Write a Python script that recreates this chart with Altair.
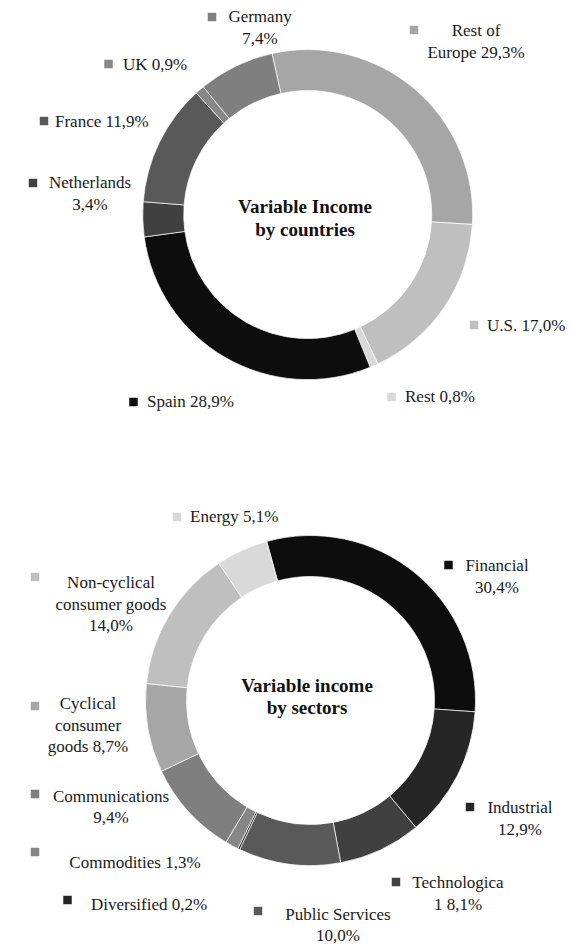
import math
import altair as alt
import pandas as pd

FONT = "Liberation Serif"

# ---------------- data ----------------
country_names = ["Rest of Europe", "U.S.", "Rest", "Spain", "Netherlands", "France", "UK", "Germany"]
country_values = [29.3, 17.0, 0.8, 28.9, 3.4, 11.9, 0.9, 7.4]
country_colors = ["#a6a6a6", "#bfbfbf", "#d9d9d9", "#0d0d0d", "#404040", "#595959", "#878787", "#7f7f7f"]
country_labels = [["Rest of", "Europe 29,3%"], ["U.S. 17,0%"], ["Rest 0,8%"], ["Spain 28,9%"],
                  ["Netherlands", "3,4%"], ["France 11,9%"], ["UK 0,9%"], ["Germany", "7,4%"]]

sector_names = ["Financial", "Industrial", "Technologica", "Public Services", "Diversified",
                "Commodities", "Communications", "Cyclical consumer goods",
                "Non-cyclical consumer goods", "Energy"]
sector_values = [30.4, 12.9, 8.1, 10.0, 0.2, 1.3, 9.4, 8.7, 14.0, 5.1]
sector_colors = ["#0d0d0d", "#262626", "#404040", "#595959", "#262626",
                 "#878787", "#7f7f7f", "#a6a6a6", "#bfbfbf", "#d9d9d9"]
sector_labels = [["Financial", "30,4%"], ["Industrial", "12,9%"], ["Technologica", "1 8,1%"],
                 ["Public Services", "10,0%"], ["Diversified 0,2%"], ["Commodities 1,3%"],
                 ["Communications", "9,4%"], ["Cyclical", "consumer", "goods 8,7%"],
                 ["Non-cyclical", "consumer goods", "14,0%"], ["Energy 5,1%"]]

titles = [["Variable Income", "by countries"], ["Variable income", "by sectors"]]

# ---------------- layout (page pixels, minus 8px margin below) ----------------
M = 8
donut_centers = [(307.7, 214.6), (310.5, 700.5)]
outer_r, inner_r = 165, 124
start_deg = [-12.5, -15.4]
title_x = [305, 307]
title_y = [[207, 230], [686, 708]]

# per label: square centre, text anchor x, alignment, first-line y, line step
country_layout = [
    ((414, 30), 476, "center", 31, 22),
    ((474, 325), 487, "left", 326, 22),
    ((391.5, 397), 405, "left", 397, 22),
    ((133.5, 402), 147, "left", 402, 22),
    ((33, 183), 90, "center", 183, 22),
    ((44, 121), 55, "left", 122, 22),
    ((108.5, 64), 123, "left", 65, 22),
    ((212, 17), 260, "center", 17, 22),
]
sector_layout = [
    ((448.5, 565), 497, "center", 566, 22),
    ((470, 807), 520, "center", 808, 22),
    ((396, 882), 458, "center", 883, 22),
    ((258, 911), 338, "center", 915, 21),
    ((67.5, 900), 91, "left", 905, 22),
    ((35, 852), 135, "center", 863, 22),
    ((35, 794), 111, "center", 797, 21),
    ((35, 706), 88, "center", 704, 21.5),
    ((35, 577), 111, "center", 583, 21.5),
    ((177, 517), 190, "left", 517, 22),
]

arc_frames, sq_rows, txt_rows = [], [], []
for k, (names, vals, cols, labels, layout) in enumerate([
        (country_names, country_values, country_colors, country_labels, country_layout),
        (sector_names, sector_values, sector_colors, sector_labels, sector_layout)]):
    arc_frames.append(pd.DataFrame({"name": names, "value": vals, "color": cols,
                                    "idx": list(range(len(names)))}))
    for name, col, lines, (sq, tx, al, y0, step) in zip(names, cols, labels, layout):
        sq_rows.append({"x": sq[0] - M, "y": sq[1] - M, "color": col})
        for j, line in enumerate(lines):
            txt_rows.append({"x": tx - M, "y": y0 + j * step - M, "text": line, "align": al})

sq_df = pd.DataFrame(sq_rows)
txt_df = pd.DataFrame(txt_rows)
title_df = pd.DataFrame([{"x": title_x[k] - M, "y": title_y[k][j] - M, "text": t}
                         for k in range(2) for j, t in enumerate(titles[k])])

layers = []
for k, df in enumerate(arc_frames):
    a0 = math.radians(start_deg[k])
    cx, cy = donut_centers[k]
    layers.append(
        alt.Chart(df).mark_arc(innerRadius=inner_r, outerRadius=outer_r,
                               stroke="white", strokeWidth=0.7).encode(
            theta=alt.Theta("value:Q", stack=True,
                            scale=alt.Scale(range=[a0, a0 + 2 * math.pi])),
            color=alt.Color("color:N", scale=None),
            order=alt.Order("idx:Q", sort="ascending"),
            x=alt.value(cx - M),
            y=alt.value(cy - M),
        )
    )

xs = alt.X("x:Q", scale=None, axis=None)
ys = alt.Y("y:Q", scale=None, axis=None)

squares = alt.Chart(sq_df).mark_square(size=72, opacity=1).encode(
    x=xs, y=ys, color=alt.Color("color:N", scale=None))

text_left = alt.Chart(txt_df[txt_df["align"] == "left"]).mark_text(
    align="left", baseline="middle", font=FONT, fontSize=17, color="#1a1a1a").encode(
    x=xs, y=ys, text="text:N")
text_center = alt.Chart(txt_df[txt_df["align"] == "center"]).mark_text(
    align="center", baseline="middle", font=FONT, fontSize=17, color="#1a1a1a").encode(
    x=xs, y=ys, text="text:N")
title_text = alt.Chart(title_df).mark_text(
    align="center", baseline="middle", font=FONT, fontSize=19, fontWeight="bold",
    color="#111111").encode(x=xs, y=ys, text="text:N")

chart = alt.layer(*layers, squares, text_left, text_center, title_text).resolve_scale(
    theta="independent").properties(
    width=562, height=936, padding=0, autosize=alt.AutoSizeParams(type="none")
).configure_view(stroke=None)

chart.save("out.html", embed_options={"renderer": "svg", "actions": False})
